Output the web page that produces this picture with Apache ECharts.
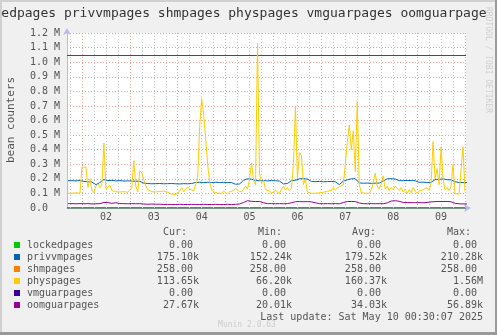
<!DOCTYPE html>
<html>
<head>
<meta charset="utf-8">
<script src="https://cdn.jsdelivr.net/npm/echarts@6/dist/echarts.min.js"></script>
<style>
  html, body { margin: 0; padding: 0; background: #f0f0f0; }
  #chart { width: 497px; height: 335px; }
</style>
</head>
<body>
<div id="chart"></div>
<script>
// Time is counted in hours from May 1, 00:00.
const rangeStartHour = 16.5;
const rangeEndHour = 216.5;
const dayLabels = ['02', '03', '04', '05', '06', '07', '08', '09'];

// physpages, hourly samples starting at hour 17 (thousands of pages)
const physStartHour = 17;
const physpagesK = [
  100, 98, 102, 100, 104, 99, 101,
  280, 288, 280, 140, 200, 120, 105, 150, 165, 140, 160, 445, 130, 120, 155, 120, 108, 112, 105, 110, 106, 112, 104, 108,
  115, 140, 325, 150, 110, 255, 240, 195, 150, 125, 118, 112, 115, 110, 118, 114, 112, 116, 110, 108, 100, 95, 100, 92,
  98, 115, 140, 110, 130, 145, 130, 122, 118, 125, 200, 560, 750, 640, 480, 300, 180, 125, 110, 118, 102, 112, 98, 115,
  105, 95, 112, 100, 118, 135, 120, 125, 110, 128, 150, 130, 200, 310, 190, 160, 1130, 240, 170, 190, 125, 115, 118, 102,
  98, 120, 112, 100, 130, 150, 125, 140, 118, 135, 300, 695, 200, 380, 360, 160, 200, 110, 105, 100, 98, 102, 96, 104,
  100, 108, 102, 115, 110, 120, 140, 125, 130, 145, 150, 160, 300, 450, 570, 400, 530, 250, 730, 160, 105, 100, 102, 98,
  100, 125, 170, 240, 150, 130, 165, 220, 130, 150, 120, 140, 125, 150, 155, 120, 140, 110, 130, 100, 125, 105, 140, 115,
  100, 118, 110, 125, 115, 140, 120, 170, 455, 200, 270, 160, 420, 200, 125, 140, 120, 150, 300, 100, 92, 95, 90, 420, 114
];

// privvmpages and oomguarpages, two-hourly samples starting at hour 17 (thousands of pages)
const slowStartHour = 17;
const privvmpagesK = [
  187, 187, 186, 188, 182, 180, 178, 160, 175, 195, 188, 190, 186, 188, 185, 186, 185, 184, 183, 170,
  168, 166, 167, 168, 166, 167, 168, 166, 165, 167, 166, 168, 175, 176, 175, 176, 175, 176, 175, 176,
  175, 174, 163, 165, 190, 200, 198, 188, 187, 188, 186, 188, 187, 185, 165, 168, 188, 190, 200, 201,
  199, 182, 181, 182, 180, 181, 182, 180, 160, 185, 193, 200, 201, 172, 170, 171, 169, 170, 171, 185,
  200, 201, 199, 188, 187, 189, 188, 187, 176, 177, 175, 176, 194, 196, 200, 194, 193, 180, 175, 174, 175
];
const oomguarpagesK = [
  30, 30, 29, 30, 29, 30, 28, 29, 30, 38, 37, 32, 36, 30, 30, 29, 30, 29, 30, 27,
  26, 27, 26, 26, 24, 25, 24, 24, 25, 24, 24, 25, 24, 24, 25, 24, 24, 25, 24, 24,
  25, 24, 25, 28, 38, 50, 46, 44, 45, 36, 30, 30, 29, 30, 29, 30, 36, 43, 44, 43,
  44, 42, 36, 30, 29, 30, 29, 30, 29, 38, 44, 45, 44, 34, 30, 29, 30, 29, 30, 29,
  35, 48, 50, 46, 38, 37, 37, 36, 37, 36, 38, 42, 44, 45, 44, 45, 43, 32, 29, 28, 28
];

// Flat series, given at both ends of the time range
const flatHours = [16.5, 216.5];
const lockedpagesK = [0, 0];
const shmpagesK = [0.258, 0.258];
const vmguarpagesK = [0, 0];

// privvmpages limit
const privvmLimit = 1050000;

// Legend table
const fieldNames = ['lockedpages', 'privvmpages', 'shmpages', 'physpages', 'vmguarpages', 'oomguarpages'];
const fieldColors = ['#00CC00', '#0066B3', '#FF8000', '#FFCC00', '#330099', '#990099'];
const curText = ['0.00 ', '175.10k', '258.00 ', '113.65k', '0.00 ', '27.67k'];
const minText = ['0.00 ', '152.24k', '258.00 ', '66.20k', '0.00 ', '20.01k'];
const avgText = ['0.00 ', '179.52k', '258.00 ', '160.37k', '0.00 ', '34.03k'];
const maxText = ['0.00 ', '210.28k', '258.00 ', '1.56M', '0.00 ', '56.89k'];
const lastUpdate = 'Last update: Sat May 10 00:30:07 2025';

const MONO = "'DejaVu Sans Mono', monospace";
const TXT = '#555555';

function pairs(startHour, step, valuesK) {
  return valuesK.map((v, i) => [startHour + i * step, v * 1000]);
}
function flat(valuesK) {
  return valuesK.map((v, i) => [flatHours[i], v * 1000]);
}

// Vertical grid: dotted grey every 6 h, dotted red at midnight
const minorGrid = [], majorGrid = [];
for (let h = Math.ceil(rangeStartHour / 6) * 6; h <= rangeEndHour; h += 6) {
  if (h % 24 === 0) majorGrid.push({ xAxis: h });
  else minorGrid.push({ xAxis: h });
}
const dayLabelHours = dayLabels.map((d, i) => 36 + 24 * i);

function lineSeries(name, data, color, z) {
  return {
    name, type: 'line', data, symbol: 'none', z,
    lineStyle: { color, width: 1 }, itemStyle: { color },
    silent: true, animation: false
  };
}

const series = [
  {
    type: 'line', data: [], silent: true, z: 1,
    markLine: {
      silent: true, symbol: ['none', 'none'], animation: false,
      label: { show: false },
      data: minorGrid.map(d => Object.assign({}, d, { lineStyle: { color: '#c8c8c8', type: [1, 2], width: 1 } }))
        .concat(majorGrid.map(d => Object.assign({}, d, { lineStyle: { color: '#e6a0a0', type: [1, 2], width: 1 } })))
    }
  },
  lineSeries('shmpages', flat(shmpagesK), fieldColors[2], 3),
  lineSeries('vmguarpages', flat(vmguarpagesK), fieldColors[4], 3),
  lineSeries('lockedpages', flat(lockedpagesK), fieldColors[0], 4),
  Object.assign(lineSeries('privvmpages', pairs(slowStartHour, 2, privvmpagesK), fieldColors[1], 5), {
    markLine: {
      silent: true, symbol: ['none', 'none'], animation: false, label: { show: false },
      lineStyle: { color: '#0B5DA8', type: 'solid', width: 1 },
      data: [{ yAxis: privvmLimit }]
    }
  }),
  lineSeries('physpages', pairs(physStartHour, 1, physpagesK), fieldColors[3], 6),
  lineSeries('oomguarpages', pairs(slowStartHour, 2, oomguarpagesK), fieldColors[5], 7)
];

// Legend table and decorations
const graphic = [
  {
    type: 'text', x: -30, y: 14, silent: true, z: 10,
    style: { text: 'lockedpages privvmpages shmpages physpages vmguarpages oomguarpages', font: '13px ' + MONO, fill: '#333333', verticalAlign: 'middle', align: 'left' }
  },
  // right margin strip of the canvas, over the end of the title
  { type: 'rect', shape: { x: 486, y: 2, width: 9, height: 28 }, style: { fill: '#f0f0f0' }, silent: true, z: 11 },
  // frame
  { type: 'rect', shape: { x: 0, y: 0, width: 497, height: 2 }, style: { fill: '#d0d0d0' }, silent: true, z: 12 },
  { type: 'rect', shape: { x: 0, y: 0, width: 2, height: 335 }, style: { fill: '#d0d0d0' }, silent: true, z: 12 },
  { type: 'rect', shape: { x: 495, y: 0, width: 2, height: 335 }, style: { fill: '#9a9a9a' }, silent: true, z: 12 },
  { type: 'rect', shape: { x: 0, y: 332, width: 497, height: 3 }, style: { fill: '#9a9a9a' }, silent: true, z: 12 },
  {
    type: 'text', x: 11, y: 120, rotation: Math.PI / 2, silent: true,
    style: { text: 'bean counters', font: '11px ' + MONO, fill: TXT, align: 'center', verticalAlign: 'middle' }
  },
  {
    type: 'text', x: 488, y: 60, rotation: -Math.PI / 2, silent: true, z: 12,
    style: { text: 'RRDTOOL / TOBI OETIKER', font: '8px ' + MONO, fill: '#cfcfcf', align: 'center', verticalAlign: 'middle' }
  },
  {
    type: 'text', x: 247, y: 325, silent: true,
    style: { text: 'Munin 2.0.63', font: '8px ' + MONO, fill: '#cccccc', align: 'center', verticalAlign: 'middle' }
  },
  { type: 'text', x: 163, y: 232, silent: true, style: { text: 'Cur:', font: '10px ' + MONO, fill: TXT, verticalAlign: 'middle' } },
  { type: 'text', x: 258, y: 232, silent: true, style: { text: 'Min:', font: '10px ' + MONO, fill: TXT, verticalAlign: 'middle' } },
  { type: 'text', x: 352, y: 232, silent: true, style: { text: 'Avg:', font: '10px ' + MONO, fill: TXT, verticalAlign: 'middle' } },
  { type: 'text', x: 447, y: 232, silent: true, style: { text: 'Max:', font: '10px ' + MONO, fill: TXT, verticalAlign: 'middle' } },
  { type: 'text', x: 483, y: 317, silent: true, style: { text: lastUpdate, font: '10px ' + MONO, fill: TXT, align: 'right', verticalAlign: 'middle' } }
];
fieldNames.forEach((name, i) => {
  const y = 245 + 12 * i;
  graphic.push({ type: 'rect', shape: { x: 14, y: y - 3, width: 6, height: 6 }, style: { fill: fieldColors[i] }, silent: true });
  graphic.push({ type: 'text', x: 27, y, silent: true, style: { text: name, font: '10px ' + MONO, fill: TXT, verticalAlign: 'middle' } });
  [[curText, 199], [minText, 292], [avgText, 387], [maxText, 483]].forEach(([col, right]) => {
    graphic.push({ type: 'text', x: right, y, silent: true, style: { text: col[i], font: '10px ' + MONO, fill: TXT, align: 'right', verticalAlign: 'middle' } });
  });
});

const chart = echarts.init(document.getElementById('chart'), null, { renderer: 'canvas' });
chart.setOption({
  backgroundColor: '#f0f0f0',
  animation: false,
  grid: { left: 67, top: 33, width: 399, height: 175, show: true, backgroundColor: '#ffffff', borderWidth: 0, containLabel: false },
  xAxis: {
    type: 'value', min: rangeStartHour, max: rangeEndHour,
    splitLine: { show: false },
    axisTick: { show: false },
    axisLine: { show: true, lineStyle: { color: '#b8b8f0', width: 1 }, symbol: ['none', 'arrow'], symbolSize: [6, 7], symbolOffset: [0, 5] },
    axisLabel: {
      customValues: dayLabelHours, margin: 4, color: TXT, fontFamily: 'DejaVu Sans Mono', fontSize: 10,
      formatter: v => dayLabels[Math.round((v - 36) / 24)]
    }
  },
  yAxis: {
    type: 'value', min: 0, max: 1200000, interval: 100000,
    axisLine: { show: true, lineStyle: { color: '#b8b8f0', width: 1 }, symbol: ['none', 'arrow'], symbolSize: [6, 7], symbolOffset: [0, 5] },
    axisTick: { show: false },
    splitLine: { show: true, lineStyle: { color: '#e6a0a0', type: [1, 2], width: 1 } },
    axisLabel: {
      margin: 37, align: 'left', color: TXT, fontFamily: 'DejaVu Sans Mono', fontSize: 10,
      formatter: v => v === 0 ? '0.0' : (v / 1e6).toFixed(1) + ' M'
    }
  },
  series,
  graphic
});
</script>
</body>
</html>
